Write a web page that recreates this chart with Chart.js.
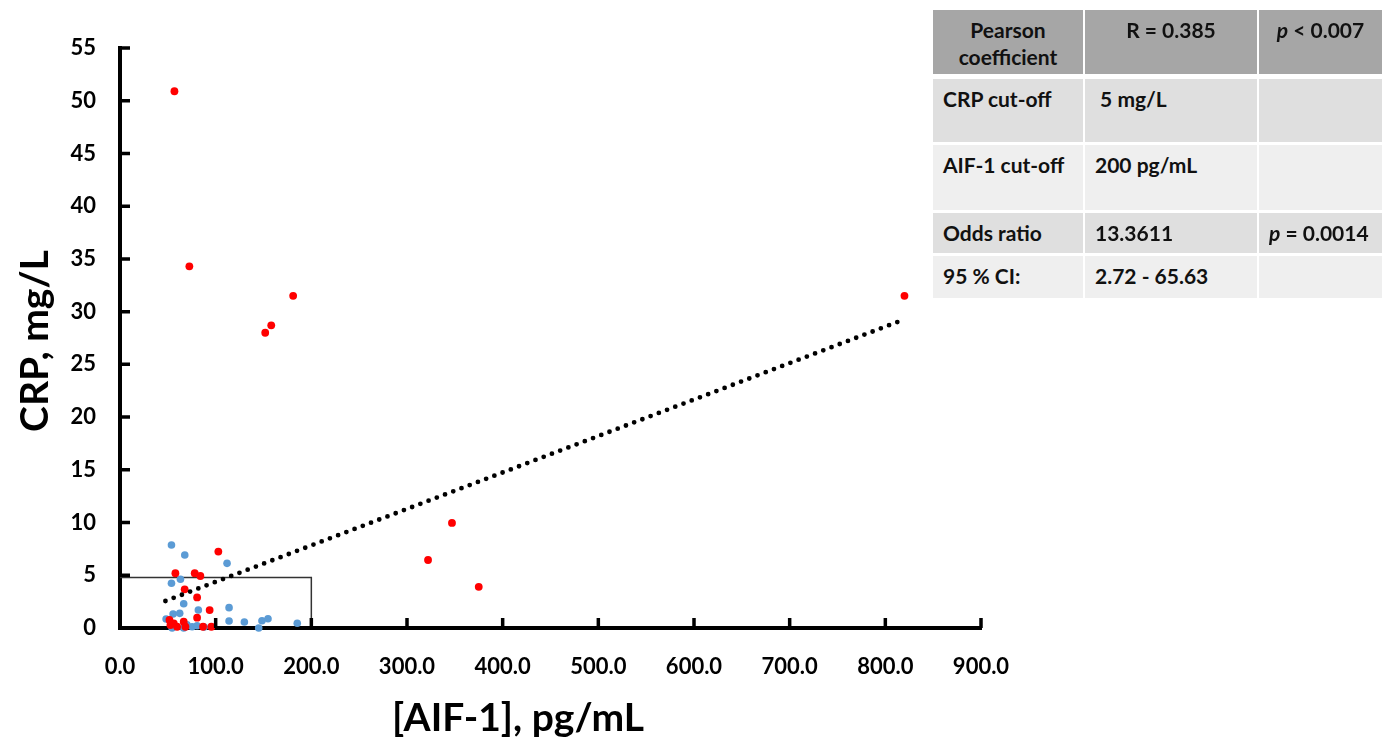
<!DOCTYPE html>
<html>
<head>
<meta charset="utf-8">
<script src="https://cdn.jsdelivr.net/npm/chart.js@4/dist/chart.umd.min.js"></script>
<style>
  html, body { margin: 0; padding: 0; background: #fff; }
  #wrap { position: relative; width: 1384px; height: 742px; }
  #c { position: absolute; left: 0; top: 0; }
  .cell { position: absolute; box-sizing: border-box; font-family: Lato, "Open Sans", sans-serif; font-weight: 700;
          font-size: 21px; line-height: 27px; color: #111; padding: 6px 8px 0 10px; white-space: pre; }
  .hdr { background: #a6a6a6; text-align: center; padding-left: 0; padding-right: 0; }
  .dk { background: #dfdfdf; }
  .lt { background: #efefef; }
</style>
</head>
<body>
<div id="wrap">
  <canvas id="c" width="1384" height="742"></canvas>
  <div id="tbl"></div>
</div>
<script>
// ---- data ----
const redX  = [56.9, 72.5, 151.8, 158.1, 181, 820, 102.8, 322, 347, 375, 57.9, 78.1, 84, 67.6, 80.6, 93.7, 80.6, 51.7, 56.2, 66.6, 59.7, 68.4, 86.8, 95.5, 52.7];
const redY  = [50.9, 34.3, 28.0, 28.7, 31.5, 31.5, 7.25, 6.45, 9.96, 3.9, 5.19, 5.19, 4.93, 3.67, 2.9, 1.7, 0.98, 0.76, 0.44, 0.6, 0.12, 0.12, 0.12, 0.12, 0.28];
const blueX = [53.8, 67.7, 111.9, 53.8, 63.2, 66.6, 55.5, 62.4, 81.9, 114, 48.2, 114, 130, 148.4, 154.7, 185.3, 145, 54.5, 75.4, 80.6, 66.6, 70, 88];
const blueY = [7.87, 6.92, 6.13, 4.24, 4.62, 2.3, 1.33, 1.39, 1.7, 1.93, 0.85, 0.66, 0.57, 0.69, 0.88, 0.45, 0, 0, 0.12, 0.22, 0, 0.3, 0.1];
const trendX = [47.5, 818];
const trendY = [2.56, 29.2];
const boxX = [0, 200, 200];
const boxY = [4.8, 4.8, 0];
const xTicks = [0, 100, 200, 300, 400, 500, 600, 700, 800, 900];
const yTicks = [0, 5, 10, 15, 20, 25, 30, 35, 40, 45, 50, 55];
const xTitle = "[AIF-1], pg/mL";
const yTitle = "CRP, mg/L";

// table content
const tableRows = [
  ["Pearson\ncoefficient", "R = 0.385", "<i>p</i> < 0.007"],
  ["CRP cut-off", " 5 mg/L", ""],
  ["AIF-1 cut-off", "200 pg/mL", ""],
  ["Odds ratio", "13.3611", "<i>p</i> = 0.0014"],
  ["95 % CI:", "2.72 - 65.63", ""]
];
const colLeft = [933, 1085, 1259], colW = [150, 172, 123];
const rowTop = [10, 79, 145, 213, 256], rowH = [64, 63, 65, 40, 42];
const rowCls = ["hdr", "dk", "lt", "dk", "lt"];
const tbl = document.getElementById('tbl');
tableRows.forEach((row, r) => {
  row.forEach((txt, c) => {
    const d = document.createElement('div');
    d.className = 'cell ' + rowCls[r];
    d.style.left = colLeft[c] + 'px'; d.style.top = rowTop[r] + 'px';
    d.style.width = colW[c] + 'px'; d.style.height = rowH[r] + 'px';
    if (r === 0) d.style.paddingTop = '6px';
    d.innerHTML = txt;
    tbl.appendChild(d);
  });
});

const pts = (xs, ys) => xs.map((x, i) => ({x: x, y: ys[i]}));

// inward tick marks, placed through the chart's own scales
const tickPlugin = {
  id: 'inwardTicks',
  afterDatasetsDraw(chart) {
    const ctx = chart.ctx, xs = chart.scales.x, ys = chart.scales.y;
    const x0 = xs.getPixelForValue(0), y0 = ys.getPixelForValue(0);
    ctx.save();
    ctx.strokeStyle = '#000';
    ctx.lineWidth = 3.5;
    ctx.lineCap = 'butt';
    ctx.beginPath();
    yTicks.forEach(v => { const p = ys.getPixelForValue(v); ctx.moveTo(x0, p); ctx.lineTo(x0 + 10, p); });
    xTicks.forEach(v => { const p = xs.getPixelForValue(v); ctx.moveTo(p, y0); ctx.lineTo(p, y0 - 10); });
    ctx.stroke();
    ctx.restore();
  },
  afterDraw(chart) {
    const ctx = chart.ctx;
    ctx.save();
    ctx.fillStyle = '#000';
    ctx.font = '700 39px Lato, "Open Sans", sans-serif';
    ctx.textAlign = 'center';
    ctx.textBaseline = 'alphabetic';
    ctx.fillText(xTitle, 518, 731);
    ctx.translate(48, 341);
    ctx.rotate(-Math.PI / 2);
    ctx.fillText(yTitle, 0, 0);
    ctx.restore();
  }
};

new Chart(document.getElementById('c'), {
  type: 'scatter',
  data: {
    datasets: [
      { data: pts(boxX, boxY), showLine: true, borderColor: '#333', borderWidth: 1.5, pointRadius: 0, clip: false, order: 4 },
      { data: pts(blueX, blueY), backgroundColor: '#5b9bd5', borderWidth: 0, pointRadius: 3.8, clip: false, order: 3 },
      { data: pts(redX, redY), backgroundColor: '#ff0000', borderWidth: 0, pointRadius: 3.9, clip: false, order: 2 },
      { data: pts(trendX, trendY), showLine: true, borderColor: '#000', borderWidth: 4.8, borderDash: [0, 8.8],
        borderCapStyle: 'round', pointRadius: 0, clip: false, order: 1 }
    ]
  },
  options: {
    responsive: false,
    animation: false,
    events: [],
    layout: { padding: { left: 0, top: 48, right: 403, bottom: 0 } },
    plugins: { legend: { display: false }, tooltip: { enabled: false } },
    scales: {
      x: {
        type: 'linear', min: 0, max: 900,
        afterBuildTicks: s => { s.ticks = xTicks.map(v => ({value: v})); },
        afterFit: s => { s.height = 114; },
        border: { color: '#000', width: 4 },
        grid: { display: false, drawTicks: false, tickLength: 0 },
        ticks: { color: '#000', padding: 26, maxRotation: 0, autoSkip: false,
                 font: { family: 'Lato, "Open Sans", sans-serif', size: 22, weight: '700' },
                 callback: v => Number(v).toFixed(1) }
      },
      y: {
        type: 'linear', min: 0, max: 55,
        afterBuildTicks: s => { s.ticks = yTicks.map(v => ({value: v})); },
        afterFit: s => { s.width = 120; },
        border: { color: '#000', width: 4 },
        grid: { display: false, drawTicks: false, tickLength: 0 },
        ticks: { color: '#000', padding: 24, autoSkip: false,
                 font: { family: 'Lato, "Open Sans", sans-serif', size: 22, weight: '700' },
                 callback: v => String(v) }
      }
    }
  },
  plugins: [tickPlugin]
});
</script>
</body>
</html>
